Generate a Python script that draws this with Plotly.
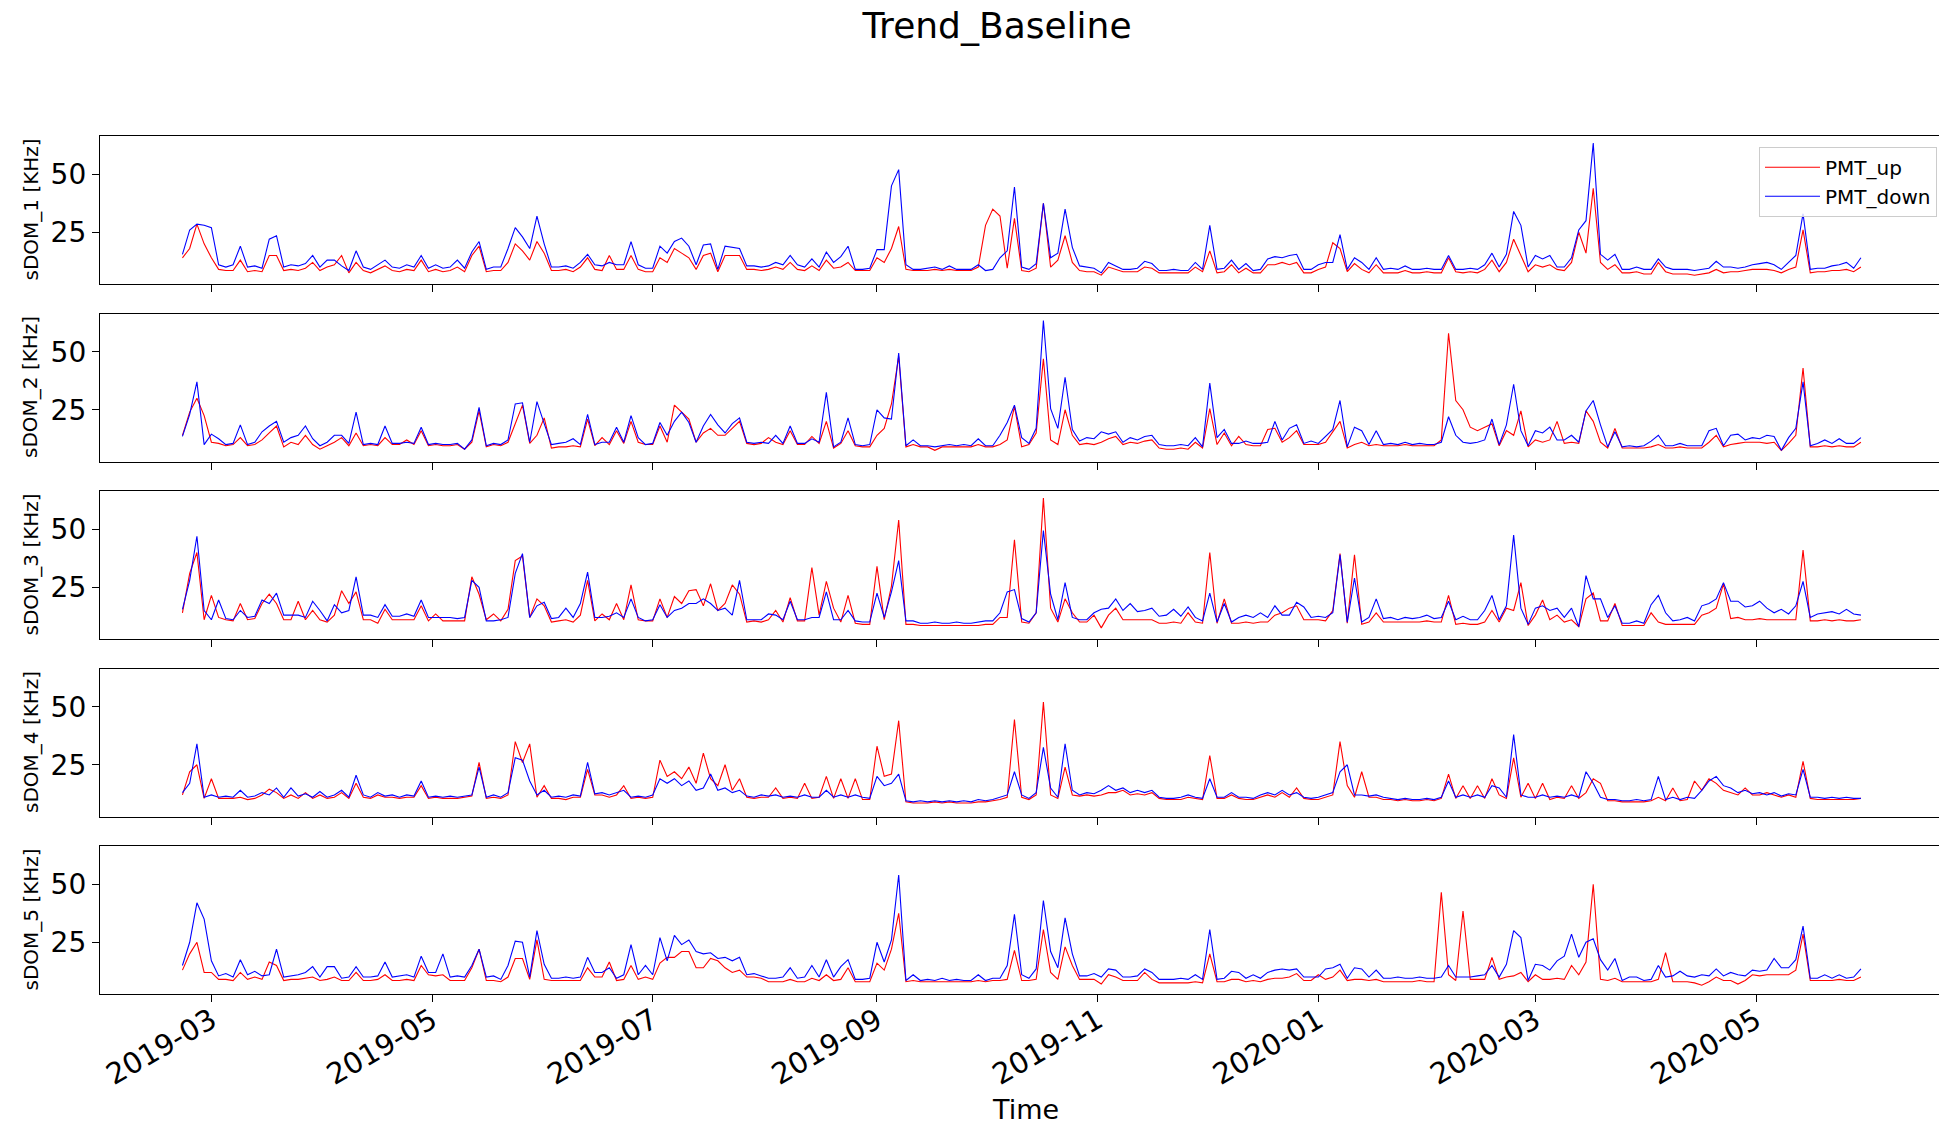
import pandas as pd
import plotly.graph_objects as go
from plotly.subplots import make_subplots

# ---------------- data ----------------
start_date = "2019-02-21"
n_points = 233
dates = pd.date_range(start_date, periods=n_points, freq="2D")

series_names = ["PMT_up", "PMT_down"]
ylabels = ["sDOM_1 [KHz]", "sDOM_2 [KHz]", "sDOM_3 [KHz]", "sDOM_4 [KHz]", "sDOM_5 [KHz]"]
tick_dates = ["2019-03-01", "2019-05-01", "2019-07-01", "2019-09-01",
              "2019-11-01", "2020-01-01", "2020-03-01", "2020-05-01"]
tick_labels = ["2019-03", "2019-05", "2019-07", "2019-09",
               "2019-11", "2020-01", "2020-03", "2020-05"]
y_ticks = [25, 50]

sdom1_up = [
    14, 18, 28.5, 20, 14, 9, 8.5, 8.5, 13, 8,
    8.5, 8, 15, 15, 8.5, 9, 8.5, 9.5, 12, 8.5,
    10, 11, 15, 7.5, 12, 8.5, 7.5, 9, 10.5, 8.5,
    8, 9, 8.5, 13, 8, 9, 8, 8.5, 10, 8,
    15, 19, 8, 8.5, 8.5, 12, 20, 17, 13, 21,
    16, 8.5, 8.5, 9, 8, 10, 14, 9, 8.5, 15,
    9, 9, 15, 9, 8, 8, 14, 12, 18, 16,
    14, 9, 15, 16, 8, 15, 15, 15, 9, 9,
    8.5, 9, 10, 9, 12, 9, 8.5, 10.5, 8.5, 13,
    9.5, 10, 12, 8.5, 8.5, 8.5, 14, 12, 18, 27.5,
    9, 8.5, 8.5, 8.5, 9, 8.5, 9, 8.5, 8.5, 8.5,
    10, 28, 35, 32, 9.5, 31, 8.5, 8, 9.5, 37.5,
    10, 13, 23.5, 12, 8.5, 8, 8, 6.5, 10, 9,
    8, 8, 8, 10, 9.5, 7.5, 7.5, 7.5, 7.5, 7.5,
    10, 8, 17, 7.5, 8, 11, 7.5, 9.5, 7.5, 7.5,
    11, 11, 12, 11, 12, 7.5, 7.5, 9, 10, 20.5,
    18, 8, 11.5, 9, 7.5, 11, 7.5, 7.5, 7.5, 8.5,
    7.5, 7.5, 8, 7.5, 7.5, 14, 8, 7.5, 8, 7.5,
    9, 13, 8, 12, 22, 15, 8, 11, 10, 11,
    9, 8.5, 12, 25, 16, 44, 12, 9, 11, 7.5,
    7.5, 8, 7, 7, 12, 8, 7, 7, 7, 6.5,
    7, 7.5, 9, 7.5, 8, 8, 8.5, 9, 9, 9,
    8.5, 7.5, 9, 10, 26, 7.5, 8, 8, 8.5, 8.5,
    9, 8, 10,
]
sdom1_down = [
    15.5, 26, 28.5, 28, 27, 11, 10, 11, 19, 10,
    10.5, 9.5, 22, 23.5, 10, 11, 10.5, 11.5, 15, 10,
    13, 13, 10.5, 8.5, 17, 10, 9, 11, 13, 10,
    9.5, 11, 10, 15, 9.5, 11, 9.5, 10, 13, 9.5,
    16.5, 21, 9, 10, 10, 18, 27, 23, 18, 32,
    20, 10, 10, 10.5, 9.5, 12, 15.5, 11, 10.5, 12,
    11, 11, 21, 11, 9.5, 9.5, 19, 16, 21, 22.5,
    19, 11, 19.5, 20, 9, 19, 18.5, 18, 10.5, 10.5,
    10, 10.5, 12, 11, 15, 11, 10, 13.5, 10, 16.5,
    12, 14.5, 19, 9, 9, 9.5, 17.5, 17.5, 45, 52,
    11, 9, 9, 9.5, 10, 9, 10.5, 9, 9, 9,
    11, 8.5, 9, 14, 17, 44.5, 10, 9, 11.5, 37.5,
    14, 16, 35, 18.5, 10.5, 10, 9.5, 7.5, 12, 10.5,
    9, 9, 9.5, 12.5, 11.5, 8.5, 8.5, 9, 8.5, 8.5,
    12, 9, 28, 9, 9.5, 13, 9, 11.5, 8.5, 9,
    13.5, 14.5, 14, 15, 15.5, 9, 9, 11, 12, 12,
    24, 9, 14, 12, 9, 14, 9, 9.5, 9, 10.5,
    9, 9, 9.5, 9, 9, 15, 9, 9, 9.5, 9,
    11, 16, 10, 15.5, 34, 28, 10, 15, 13.5, 15,
    10, 10, 14, 26, 30, 63.5, 15.5, 13, 15.5, 9,
    9, 10, 9, 9, 13.5, 10, 9, 9, 9, 8.5,
    9, 9.5, 12.5, 10, 10, 9.5, 10, 11, 11.5, 12,
    11, 9, 12, 15, 33, 9, 9.5, 9.5, 10.5, 11,
    12, 9.5, 14,
]

sdom2_up = [
    14, 24, 30, 22.5, 11, 10.5, 9.5, 10, 13, 9.5,
    10, 12, 15, 18, 9, 11, 10, 14, 10, 8,
    9.5, 11, 13, 9.5, 15, 9.5, 10, 9.5, 13, 10,
    10, 12, 10, 16, 9.5, 10, 9.5, 9.5, 10, 8,
    11, 24.5, 9, 10, 9.5, 11, 19, 27, 10.5, 14,
    21.5, 8.5, 9, 9, 9.5, 9, 21, 9.5, 13, 10,
    16, 10.5, 20, 11, 10, 10, 18, 11, 27, 24,
    21, 11, 15, 17, 14, 14, 17, 20, 10.5, 10,
    10.5, 13, 11, 10, 16, 10, 10, 13.5, 10.5, 20,
    8.5, 10.5, 16, 9.5, 9, 9, 14, 17, 27.5, 48,
    9, 10, 9, 9, 7.5, 9, 9, 9, 9, 9,
    10, 9, 9, 10, 12, 26.5, 9, 10, 15, 47,
    12, 10, 25, 14, 10, 10.5, 10, 11, 12.5, 13.5,
    10, 11, 10.5, 11.5, 12, 8.5, 8, 8, 8.5, 8,
    11, 8.5, 25.5, 10, 15, 9.5, 13.5, 10, 9.5, 9.5,
    16.5, 17, 11, 13, 16, 10, 10, 10, 11, 15.5,
    20, 8.5, 10, 11, 9.5, 10, 9.5, 9.5, 9.5, 10,
    9.5, 9.5, 9.5, 9.5, 12, 58, 29, 25, 17.5, 16,
    17.5, 19, 9.5, 16, 14, 24.5, 9, 12, 11, 12,
    20, 10.5, 11, 10.5, 24.5, 20, 11, 8.5, 17, 8.5,
    8.5, 8.5, 8.5, 9, 10, 8.5, 8.5, 9, 8.5, 8.5,
    8.5, 11, 14, 9, 10, 10.5, 11, 11, 11, 10.5,
    11, 7.5, 10.5, 14, 43, 9, 9, 9.5, 9, 9.5,
    9, 9, 11,
]
sdom2_down = [
    13.5, 23, 37, 10, 14.5, 12.5, 10, 10.5, 18.5, 10,
    11, 15.5, 18, 20, 11, 13, 14, 18, 12.5, 9.5,
    11, 14, 14, 10.5, 24, 10, 10.5, 10, 18, 10.5,
    10.5, 11, 10.5, 17.5, 10, 10.5, 10, 10, 10.5, 8,
    12, 26, 9.5, 10.5, 10, 12, 27.5, 28, 11, 28.5,
    19, 10, 10.5, 11, 12.5, 10, 23, 10, 11, 11,
    17.5, 11, 22.5, 13, 10, 10.5, 19.5, 14, 20, 24,
    19.5, 11, 18, 23, 18.5, 15, 19, 21.5, 11, 10.5,
    11, 10.5, 14, 10.5, 18, 10.5, 10.5, 12.5, 11, 32.5,
    9, 11, 21.5, 10, 9.5, 10, 25, 21.5, 21, 49.5,
    9.5, 12, 9.5, 9.5, 9, 9.5, 10, 9.5, 10, 9.5,
    12.5, 9.5, 9.5, 14, 19.5, 27, 13, 10.5, 17, 63.5,
    25.5, 17, 39, 16.5, 11.5, 13, 12.5, 15.5, 14.5, 15.5,
    11, 13, 12, 13.5, 14, 10, 9.5, 9.5, 10, 9.5,
    13, 9, 36.5, 13, 16.5, 10.5, 10.5, 11.5, 10.5, 10.5,
    11, 20, 12, 17, 18.5, 10.5, 11.5, 10.5, 13.5, 16.5,
    29, 9, 17.5, 16, 10, 16, 10, 10.5, 10, 11,
    10, 10.5, 10, 10, 11, 22, 14, 11, 10.5, 11,
    12, 21, 10, 18.5, 36, 16, 9.5, 16, 15, 17.5,
    12, 12, 14, 11, 24.5, 29, 18.5, 9, 15.5, 9,
    9.5, 9, 9.5, 11.5, 14, 9.5, 9.5, 10.5, 9.5, 9.5,
    9.5, 16, 17, 9.5, 14, 14.5, 12, 13, 12.5, 14,
    13.5, 7.5, 13, 17, 37, 9.5, 10.5, 12, 10.5, 12.5,
    10.5, 10.5, 13,
]

sdom3_up = [
    14, 31, 40, 11, 21.5, 12, 11, 10.5, 18, 11,
    11.5, 18, 22, 18, 11, 11, 19, 11, 15, 11,
    10, 13, 23.5, 18, 23, 11, 11, 9.5, 15.5, 11,
    11, 11, 11, 17, 10.5, 13.5, 10.5, 10.5, 10.5, 10.5,
    29.5, 22, 11, 13.5, 10.5, 15.5, 36.5, 38.5, 12, 20,
    17, 10, 10.5, 11, 10, 13, 28, 10.5, 13.5, 11,
    18, 11, 26, 11, 10.5, 10.5, 20, 12, 21, 18,
    23.5, 24, 17, 26.5, 15, 18, 26, 22, 10, 10.5,
    10, 11, 15, 10, 20.5, 10.5, 10.5, 33.5, 13, 27.5,
    16, 10, 21.5, 9.5, 9, 9, 34, 11, 25.5, 54,
    9, 9, 8.5, 8.5, 8.5, 8.5, 8.5, 8.5, 8.5, 8.5,
    8.5, 9, 9, 12, 12, 45.5, 10, 9.5, 14, 63.5,
    16, 10, 20, 14, 10, 10, 13, 7.5, 13, 16,
    11, 11, 11, 11, 11, 9.5, 9.5, 10, 9.5, 14,
    10, 9.5, 40, 9.5, 20, 9.5, 9.5, 10, 9.5, 10,
    10, 13, 14, 16, 17, 11, 11, 11, 10.5, 15,
    39.5, 9.5, 39, 9, 10, 14, 10, 10, 10, 10,
    10, 10, 10.5, 10, 10, 21.5, 9, 9.5, 9, 9,
    10, 15, 10, 16, 15, 27, 8.5, 13, 19.5, 11,
    13, 10, 11, 8, 20, 22.5, 10.5, 10.5, 18, 8.5,
    8.5, 8.5, 8.5, 14, 10, 9, 9, 9, 9, 9,
    13, 14, 16, 26.5, 11.5, 12, 11, 11, 11.5, 11,
    11, 11, 11, 11, 41, 10.5, 10.5, 11, 10.5, 11,
    10.5, 10.5, 11,
]
sdom3_down = [
    15.5, 28, 47, 15, 11, 19.5, 11.5, 11, 15, 12,
    12.5, 19.5, 18, 22.5, 13, 13, 13, 12, 19, 15,
    10.5, 17.5, 14, 15, 29.5, 13, 13, 12, 17.5, 12.5,
    12.5, 13.5, 12.5, 19.5, 12, 12, 12, 12, 11.5, 12,
    28, 25, 10.5, 10.5, 11, 12, 31, 39.5, 12, 17,
    18.5, 11.5, 12, 16, 12, 18, 31.5, 12, 12, 12.5,
    14, 12, 20, 12, 10.5, 11, 17.5, 12, 15, 16,
    18, 18, 20, 18, 15, 16, 13, 28, 11, 11,
    11, 13.5, 13, 11, 19, 11, 11, 12, 12, 23,
    11, 11, 15, 10.5, 10, 10, 22.5, 12, 23, 36.5,
    10.5, 10.5, 9.5, 9.5, 10, 9.5, 9.5, 10, 9.5, 9.5,
    10, 10.5, 10.5, 14, 23, 24, 11.5, 10, 14, 49.5,
    22, 11, 27, 12, 11, 11, 14, 15.5, 16, 20,
    15, 18, 14.5, 15, 16, 12.5, 13, 15.5, 12.5, 16.5,
    12, 10.5, 22.5, 10, 18, 10, 12, 13, 12, 14,
    12, 17, 13, 13, 18.5, 16.5, 12, 12.5, 12, 14,
    39, 10, 29, 10, 12, 20, 11.5, 12, 11, 12,
    11.5, 12, 13, 11.5, 12, 19, 11, 12.5, 11, 11,
    15, 21.5, 11, 17, 47.5, 16, 9, 16, 17, 15,
    16, 12, 16, 8, 30, 20, 20, 12, 17, 9.5,
    9.5, 10.5, 9.5, 17.5, 21.5, 14, 10.5, 11, 12, 10.5,
    17, 18, 20, 27, 19, 19, 16.5, 17, 19, 16,
    14, 15.5, 13.5, 17, 27.5, 12, 13.5, 14, 14.5, 13.5,
    15.5, 13.5, 13,
]

sdom4_up = [
    12, 22, 25, 10.5, 19, 10.5, 10.5, 10.5, 11, 10,
    10.5, 12, 14.5, 13, 10.5, 12, 10.5, 13, 10.5, 12,
    10.5, 11, 13, 10.5, 17, 11, 10.5, 12, 11, 11,
    10.5, 11, 11, 16, 10.5, 11, 10.5, 10.5, 10.5, 11,
    11.5, 26, 10.5, 11, 10.5, 12, 35, 26, 34, 11,
    16, 10.5, 10.5, 10, 11, 11, 23, 12, 12, 11,
    12, 16, 10.5, 11, 10.5, 11, 27, 20, 22, 19,
    24, 17, 30, 19, 16, 25, 14, 19, 11, 10.5,
    11, 11, 15, 10.5, 11, 10.5, 17, 10.5, 11, 20,
    10.5, 19, 10.5, 19, 10, 10, 33, 20, 21, 44,
    9, 8.5, 8.5, 8.5, 9, 8.5, 9, 8.5, 8.5, 8.5,
    9, 9, 9.5, 10, 11, 44.5, 11, 10, 12, 52,
    12, 10.5, 24, 12, 11.5, 12, 11.5, 12, 13, 13,
    14, 12, 12.5, 12, 13, 10.5, 10, 10, 10, 11,
    10.5, 10, 29, 10.5, 10.5, 12, 10.5, 10, 10, 11,
    12, 11, 13, 11, 15, 10.5, 10, 10, 11, 12,
    35, 16, 11, 22, 11, 11, 10, 10, 9.5, 10,
    9.5, 9.5, 10, 9.5, 10.5, 21, 10.5, 16, 10.5, 16,
    10.5, 19, 12, 10.5, 28, 11, 17, 10.5, 17, 10,
    11, 10.5, 16, 10.5, 13, 19, 17, 9.5, 9.5, 9,
    9, 9, 9, 9.5, 11, 9.5, 15, 9.5, 10, 18,
    14, 19, 17, 14, 13, 12, 15, 12, 12, 13,
    12, 11, 12, 11, 26.5, 10.5, 10, 10, 10, 10,
    10, 10, 10.5,
]
sdom4_down = [
    13, 17, 34, 11, 12, 11, 11.5, 11, 14, 11,
    11.5, 13, 12, 15, 11, 15, 11.5, 12.5, 11, 13.5,
    11, 12, 14, 11, 20.5, 12, 11, 13, 11.5, 12,
    11, 12, 11.5, 18, 11, 11.5, 11, 11.5, 11, 11.5,
    12, 24, 11, 12, 11, 13, 28, 27, 18, 12,
    14, 11, 11.5, 11, 12, 11.5, 26, 12.5, 13, 12,
    13, 14, 11, 11.5, 11, 12, 19, 17, 19, 16,
    18, 14, 15, 21, 14, 15, 13, 14, 11.5, 11,
    12, 11.5, 12, 11, 11.5, 11, 12, 11, 11, 14,
    11, 12, 11, 12, 11, 10.5, 20, 16, 17, 21,
    9.5, 9, 9.5, 9, 9.5, 9, 9.5, 9, 9.5, 9,
    10, 9.5, 10, 11, 12, 22, 12, 10.5, 13, 32.5,
    15, 11, 34, 14, 12, 13, 12.5, 14, 16, 14,
    15, 13, 14, 13, 14, 11, 10.5, 10.5, 11, 12,
    11, 10.5, 19, 11, 11, 13, 11, 11, 10.5, 12,
    13, 12, 14, 12, 13, 11, 10.5, 11, 12, 13,
    22, 25, 12, 12, 11.5, 12, 11, 10.5, 10, 10.5,
    10, 10, 10.5, 10, 11, 18, 11, 12, 11, 12,
    11, 16, 15, 11, 38, 12, 11, 11, 12, 11,
    11.5, 11, 12, 11, 22, 17, 11, 10, 10, 9.5,
    9.5, 10, 9.5, 10, 20, 10, 11, 10, 11, 10.5,
    14, 18, 20, 16, 15, 13, 14, 12.5, 13, 12,
    13, 11.5, 12.5, 12, 23, 11, 11, 10.5, 11, 10.5,
    11, 10.5, 10.5,
]

sdom5_up = [
    13, 20, 25, 12, 12, 9, 9, 8.5, 12, 9,
    10, 9, 16.5, 15, 8.5, 9, 9, 9.5, 10, 8.5,
    9, 10, 8.5, 8.5, 12, 8.5, 8.5, 9, 11, 8.5,
    8.5, 9, 8.5, 15, 11, 10.5, 11, 8.5, 8.5, 8.5,
    14, 22, 8.5, 8.5, 8, 10, 18, 18, 9, 26,
    9, 8.5, 8.5, 8.5, 8.5, 8.5, 14, 10, 10, 16.5,
    8.5, 9, 15, 9, 10, 9, 16, 18.5, 18.5, 21,
    21, 14, 14, 18, 17, 14, 12, 13, 10, 10,
    9.5, 8, 8, 8, 9, 8, 8, 9.5, 8.5, 11,
    8.5, 9, 14, 8, 8, 8, 16, 13, 22, 37.5,
    8, 8.5, 8, 8, 8, 8, 8, 8, 8, 8,
    8.5, 8, 8.5, 8.5, 9, 21.5, 8.5, 8.5, 9, 30.5,
    12, 9, 23, 15, 9, 9, 9, 7, 11, 10,
    8.5, 8.5, 8.5, 12, 9, 7.5, 7.5, 7.5, 7.5, 7.5,
    8, 7.5, 20, 8, 8, 9, 9, 8, 8.5, 8,
    9, 9.5, 9.5, 10, 11.5, 8.5, 8.5, 11, 9, 10,
    13, 8.5, 9, 9, 8.5, 9, 8, 8, 8, 8,
    8, 8.5, 8, 8, 46.5, 11, 8.5, 38.5, 9, 9,
    9, 18.5, 9, 10, 10.5, 12, 8, 11, 9, 9,
    9.5, 9, 15, 11, 16.5, 50, 9, 8.5, 9.5, 8,
    8, 8, 8, 8, 9, 20.5, 8, 8, 8, 7.5,
    6.5, 8, 10, 8.5, 8.5, 7, 8.5, 11, 10.5, 11,
    11, 11, 11, 13, 28.5, 8.5, 8.5, 8.5, 8.5, 9,
    8.5, 8.5, 10,
]
sdom5_down = [
    15, 25, 42, 35, 17, 10.5, 11.5, 10, 17.5, 11,
    12.5, 10.5, 11, 22, 10, 10.5, 11, 12, 14.5, 10,
    14.5, 14.5, 9.5, 10, 14.5, 10, 10, 10.5, 16.5, 10,
    10.5, 11, 10, 19, 12, 12, 20, 10, 10.5, 10,
    15, 22, 10, 10.5, 9, 15, 25.5, 25, 10, 30,
    15.5, 9.5, 9.5, 10, 9.5, 10, 18.5, 12, 12, 14,
    9.5, 11, 24, 11, 15, 11, 27, 17, 28, 24,
    26, 21, 20, 20.5, 18, 18.5, 17, 18.5, 11, 11.5,
    10.5, 9.5, 9.5, 10, 14, 9.5, 10, 15, 10, 17.5,
    10, 14.5, 17.5, 9, 9, 9.5, 25, 16.5, 26, 54,
    8.5, 11, 8.5, 9, 8.5, 9.5, 8.5, 9, 8.5, 8.5,
    11, 8.5, 9.5, 9.5, 15, 37, 11, 9.5, 13.5, 43,
    21, 14, 35.5, 20, 10.5, 10.5, 11.5, 10, 13.5, 13,
    10, 10, 10.5, 13.5, 12, 9, 9, 9, 9.5, 9,
    11, 9, 30.5, 9, 9.5, 12.5, 12, 9.5, 11, 9.5,
    12, 13, 13.5, 13, 13.5, 10, 10, 10, 13.5, 14,
    15.5, 9.5, 14, 13.5, 10, 13, 9.5, 9.5, 10, 9.5,
    9.5, 10, 9.5, 9.5, 10, 15, 10, 10, 10, 10.5,
    11, 15, 10, 15.5, 30, 27, 8.5, 15.5, 15, 13,
    17, 19, 28.5, 18.5, 25, 26.5, 17.5, 13, 18, 8.5,
    10, 10, 8.5, 9, 15, 10, 10.5, 12.5, 10.5, 10,
    11, 10.5, 13.5, 10.5, 12, 11, 10.5, 13, 12.5, 13,
    18, 14, 14, 17.5, 32, 9.5, 9.5, 11, 9.5, 11,
    9.5, 10, 13.5,
]

up_series = [sdom1_up, sdom2_up, sdom3_up, sdom4_up, sdom5_up]
down_series = [sdom1_down, sdom2_down, sdom3_down, sdom4_down, sdom5_down]
for s in up_series + down_series:
    assert len(s) == n_points, len(s)

# ---------------- figure ----------------
W, H = 1939, 1127
ML, MR, MT, MB = 100, 0, 136, 133
plot_h = H - MT - MB
gap = 29.5 / plot_h

fig = make_subplots(rows=5, cols=1, shared_xaxes=True, vertical_spacing=gap)

FONT = "DejaVu Sans"
for r in range(5):
    fig.add_trace(go.Scatter(x=dates, y=up_series[r], mode="lines", name=series_names[0],
                             line=dict(color="#ff0000", width=1.1),
                             showlegend=(r == 0)), row=r + 1, col=1)
    fig.add_trace(go.Scatter(x=dates, y=down_series[r], mode="lines", name=series_names[1],
                             line=dict(color="#0000ff", width=1.1),
                             showlegend=(r == 0)), row=r + 1, col=1)

fig.update_xaxes(range=["2019-01-29 05:00", "2020-06-20 14:00"],
                 tickvals=tick_dates, ticktext=tick_labels, tickangle=-30,
                 ticks="outside", ticklen=7, tickwidth=1.3, tickcolor="black",
                 ticklabelstandoff=-10,
                 showline=True, linecolor="black", linewidth=1.3, mirror=True,
                 showgrid=False, zeroline=False,
                 tickfont=dict(size=29, color="black", family=FONT))
fig.update_yaxes(range=[2.7, 66.5], tickvals=y_ticks,
                 ticks="outside", ticklen=7, tickwidth=1.3, tickcolor="black",
                 showline=True, linecolor="black", linewidth=1.3, mirror=False,
                 showgrid=False, zeroline=False,
                 tickfont=dict(size=28, color="black", family=FONT))

annotations = []
h = (1 - 4 * gap) / 5
for r in range(5):
    top = 1 - r * (h + gap)
    annotations.append(dict(text=ylabels[r], xref="paper", yref="paper",
                            x=(30.5 - ML) / (W - ML - MR), y=top - h / 2,
                            xanchor="center", yanchor="middle", textangle=-90,
                            showarrow=False, font=dict(size=20, color="black", family=FONT)))
annotations.append(dict(text="Time", xref="paper", yref="paper",
                        x=(1025.5 - ML) / (W - ML - MR), y=(994 - 1109) / plot_h,
                        xanchor="center", yanchor="middle", showarrow=False,
                        font=dict(size=27, color="black", family=FONT)))

fig.update_layout(
    width=W, height=H,
    margin=dict(l=ML, r=MR, t=MT, b=MB),
    paper_bgcolor="white", plot_bgcolor="white",
    font=dict(family=FONT, color="black"),
    title=dict(text="Trend_Baseline", xref="container", yref="container",
               x=997 / W, y=1 - 25 / H, xanchor="center", yanchor="middle",
               font=dict(size=36, color="black", family=FONT)),
    legend=dict(x=(1759 - ML) / (W - ML - MR), y=(994 - 146.7) / plot_h,
                xanchor="left", yanchor="top", tracegroupgap=0, itemwidth=55,
                bgcolor="rgba(255,255,255,0.8)", bordercolor="#cccccc", borderwidth=1,
                font=dict(size=20, color="black", family=FONT)),
    annotations=annotations,
)

fig.write_html("out.html")
